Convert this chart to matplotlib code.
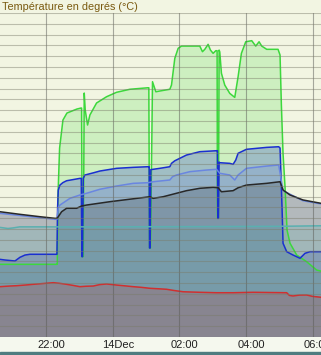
import matplotlib
matplotlib.use("Agg")
import matplotlib.pyplot as plt
import matplotlib.transforms as mtransforms
from matplotlib.patches import Rectangle

# time in hours from midnight 14 Dec, temperature in deg C
green_t = [-3.39, -1.70, -1.67, -1.65, -1.60, -1.50, -1.38, -1.08, -0.96, -0.94, -0.92, -0.89,
           -0.86, -0.83, -0.76, -0.69, -0.49, -0.19, 0.11, 0.51, 1.05, 1.08, 1.10, 1.13, 1.19,
           1.29, 1.41, 1.71, 1.76, 1.86, 1.96, 2.06, 2.61, 2.69, 2.76, 2.86, 2.93, 3.01, 3.09,
           3.13, 3.14, 3.17, 3.19, 3.21, 3.26, 3.36, 3.51, 3.66, 3.76, 3.86, 3.99, 4.17, 4.29,
           4.39, 4.47, 4.62, 4.96, 5.02, 5.06, 5.11, 5.17, 5.23, 5.32, 5.52, 5.82, 6.12, 6.25]
green_v = [6.73, 6.73, 6.73, 13.0, 17.5, 20.09, 20.74, 21.11, 21.2, 21.2, 7.44, 7.44,
           22.59, 21.0, 19.63, 20.56, 21.67, 22.25, 22.66, 22.94, 23.08, 23.08, 8.24, 8.24, 23.64,
           22.71, 22.78, 22.94, 23.33, 25.81, 26.73, 26.94, 26.94, 26.42, 26.64, 27.10, 26.57, 26.27, 26.51,
           26.51, 10.99, 10.99, 26.57, 26.4, 24.42, 23.33, 22.56, 22.19, 24.10, 26.27, 27.34, 27.44, 26.94,
           27.34, 26.94, 26.64, 26.64, 26.11, 21.5, 17.0, 13.9, 9.91, 8.68, 7.59, 6.97, 6.20, 6.10]

blue_t = [-3.39, -3.24, -2.94, -2.79, -2.64, -2.49, -1.68, -1.66, -1.64, -1.59, -1.50, -1.39,
          -0.99, -0.95, -0.93, -0.91, -0.89, -0.84, -0.59, -0.39, 0.11, 0.61, 1.06, 1.09, 1.10,
          1.12, 1.14, 1.21, 1.41, 1.71, 1.76, 1.86, 2.21, 2.61, 3.11, 3.14, 3.15, 3.17, 3.19,
          3.21, 3.51, 3.61, 3.69, 3.76, 4.01, 4.62, 4.98, 5.02, 5.08, 5.11, 5.22, 5.41, 5.62,
          5.77, 5.92, 6.25]
blue_v = [7.19, 7.13, 7.04, 7.38, 7.59, 7.66, 7.66, 12.0, 13.6, 14.07, 14.3, 14.47,
          14.69, 14.69, 7.44, 7.44, 14.7, 15.0, 15.2, 15.37, 15.62, 15.71, 15.77, 15.77, 8.24,
          8.24, 15.5, 15.53, 15.62, 15.77, 16.08, 16.32, 16.85, 17.16, 17.25, 17.25, 10.99, 10.99, 16.2,
          16.14, 16.08, 15.99, 16.39, 17.01, 17.38, 17.56, 17.62, 17.5, 12.0, 8.68, 7.90, 7.59, 7.29,
          7.75, 7.90, 7.90]

lblue_t = [-3.39, -1.74, -1.68, -1.64, -1.59, -1.29, -0.99, -0.79, -0.39, 0.11, 0.61, 1.06,
           1.21, 1.71, 1.79, 1.91, 2.31, 2.81, 3.11, 3.21, 3.51, 3.66, 3.76, 4.01, 4.62, 4.98,
           5.11, 5.41, 5.71, 6.25]
lblue_v = [11.45, 10.9, 10.9, 12.0, 12.22, 12.84, 13.15, 13.31, 13.68, 13.98, 14.23, 14.29,
           14.38, 14.54, 14.84, 15.0, 15.31, 15.46, 15.53, 15.16, 15.0, 14.54, 15.0, 15.62, 15.83, 15.93,
           13.55, 13.08, 12.62, 12.32]

black_t = [-3.39, -2.79, -2.19, -1.74, -1.68, -1.64, -1.54, -1.39, -1.09, -0.94, -0.79, -0.09,
           1.11, 1.21, 1.51, 1.71, 1.91, 2.21, 2.61, 3.01, 3.16, 3.26, 3.61, 3.76, 4.01, 4.62,
           5.02, 5.11, 5.32, 5.71, 6.25]
black_v = [11.6, 11.36, 11.14, 10.99, 10.99, 11.14, 11.6, 11.92, 11.92, 12.13, 12.22, 12.53,
           12.99, 12.84, 12.99, 13.15, 13.31, 13.55, 13.77, 13.86, 13.82, 13.45, 13.55, 13.82, 14.07, 14.23,
           14.38, 13.61, 13.15, 12.69, 12.38]

teal_t = [-3.39, -3.15, -3.0, -2.8, -1.0, 2.0, 5.0, 6.25]
teal_v = [10.15, 10.05, 10.1, 10.2, 10.2, 10.22, 10.25, 10.3]

red_t = [-3.39, -3.1, -2.89, -2.6, -2.39, -2.1, -1.79, -1.6, -1.39, -1.2, -0.99, -0.8, -0.59,
         -0.4, -0.19, 0.11, 0.35, 0.61, 0.85, 1.11, 1.4, 1.61, 1.85, 2.11, 2.61, 3.11, 3.61,
         4.21, 4.7, 5.22, 5.3, 5.41, 5.6, 5.82, 6.0, 6.25]
red_v = [4.66, 4.72, 4.75, 4.82, 4.88, 4.95, 5.03, 4.97, 4.88, 4.78, 4.66, 4.7, 4.72,
         4.85, 4.91, 4.81, 4.74, 4.66, 4.6, 4.51, 4.46, 4.42, 4.3, 4.19, 4.14, 4.10, 4.10,
         4.14, 4.12, 4.10, 3.85, 3.80, 3.88, 3.89, 3.76, 3.68]

series = [
    (green_t, green_v, "#3cd83c", 0.2),
    (blue_t, blue_v, "#1a2fd0", 0.25),
    (lblue_t, lblue_v, "#6a86e0", 0.2),
    (black_t, black_v, "#282828", 0.2),
    (teal_t, teal_v, "#5ab0b0", 0.2),
    (red_t, red_v, "#d03030", 0.2),
]

tick_pos = [-2, 0, 2, 4, 6]
tick_labels = ["22:00", "14Dec", "02:00", "04:00", "06:00"]

bg = "#f2f5e2"
fig = plt.figure(figsize=(3.21, 3.55), dpi=100, facecolor=bg)
H = 355.0
ax = fig.add_axes([0, (355 - 337) / H, 1, (337 - 12.5) / H])
ax.set_facecolor(bg)

for t, v, col, a in series:
    ax.fill_between(t, v, 0, color=col, alpha=a, linewidth=0)
for t, v, col, a in series:
    ax.plot(t, v, color=col, lw=1.1)

ax.set_xlim(-3.39, 6.25)
ax.set_ylim(0, 30.05)
ax.set_yticks(range(0, 31))
ax.set_xticks(tick_pos)
ax.set_xticklabels(tick_labels, fontsize=8, family="Liberation Sans", color="#202020")
ax.tick_params(axis="x", length=0, pad=2.5)
ax.tick_params(axis="y", length=0, labelleft=False)
ax.grid(axis="y", color="#7a7a68", lw=0.8, alpha=0.45)
ax.grid(axis="x", color="#5a5a55", lw=0.8, alpha=0.5)
ax.set_axisbelow(False)
for s in ax.spines.values():
    s.set_visible(False)

shift = mtransforms.ScaledTranslation(5 / 100, 0, fig.dpi_scale_trans)
for lab in ax.get_xticklabels():
    lab.set_transform(lab.get_transform() + shift)

# label strip and bottom border
fig.patches.append(Rectangle((0, 0), 1, 18 / H, transform=fig.transFigure,
                             color="#f5f8ee", zorder=-1))
fig.patches.append(Rectangle((0, 0), 1, 3 / H, transform=fig.transFigure,
                             color="#4f7c80", zorder=0))

fig.text(2 / 321, 1 - 9.5 / H, "Température en degrés (°C)", fontsize=7.8,
         family="Liberation Sans", color="#7a5a10", va="baseline", ha="left")

fig.savefig("out.png", dpi=100, facecolor=bg)
